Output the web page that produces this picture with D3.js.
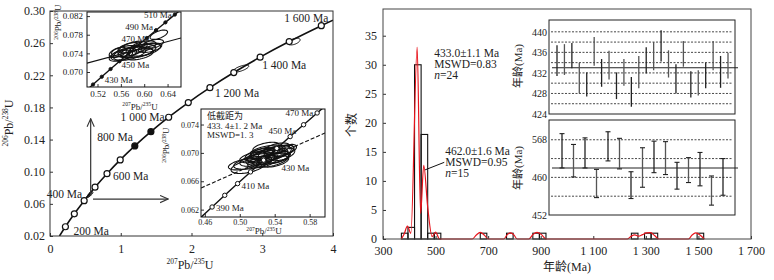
<!DOCTYPE html>
<html>
<head>
<meta charset="utf-8">
<script src="https://cdn.jsdelivr.net/npm/d3@7"></script>
<style>
body { margin: 0; background: #fff; }
svg text { font-family: "Liberation Serif", "Times New Roman", "Noto Sans CJK SC", serif; fill: #222; }
</style>
</head>
<body>
<svg width="774" height="280"></svg>
<script>
// ---- concordia diagram data ----
var concAges = [200, 300, 400, 500, 600, 700, 800, 900, 1000, 1100, 1200, 1300, 1400, 1500, 1600];
var concX = [0.2177, 0.3438, 0.4828, 0.6363, 0.8056, 0.9925, 1.1987, 1.4263, 1.6774, 1.9545, 2.2604, 2.5978, 2.9702, 3.3812, 3.8348];
var concY = [0.0315, 0.0476, 0.0640, 0.0807, 0.0975, 0.1147, 0.1321, 0.1498, 0.1678, 0.1861, 0.2046, 0.2234, 0.2426, 0.2620, 0.2817];
var concStart = [0.134, 0.02], concEnd = [4.0, 0.2885];
var filledAges = [800, 900];
var mainLabelAges = [200, 400, 600, 800, 1000, 1200, 1400, 1600];
var mainLabelText = ["200 Ma", "400 Ma", "600 Ma", "800 Ma", "1 000 Ma", "1 200 Ma", "1 400 Ma", "1 600 Ma"];
// x, y, sx, sy, rho
var mainEllipses = [
  [2.70, 0.2284, 0.110, 0.0044, 0.7],
  [3.45, 0.2620, 0.085, 0.0042, 0.5],
  [0.55, 0.0700, 0.025, 0.0013, 0.5],
  [0.57, 0.0722, 0.030, 0.0015, 0.5],
  [0.58, 0.0738, 0.028, 0.0014, 0.5],
  [0.54, 0.0692, 0.020, 0.0011, 0.5]
];

var insetAges = [380, 390, 400, 410, 420, 430, 440, 450, 460, 470, 480, 490, 500, 510, 520];
var insetX = [0.4539, 0.4683, 0.4828, 0.4975, 0.5123, 0.5273, 0.5424, 0.5577, 0.5731, 0.5886, 0.6044, 0.6202, 0.6363, 0.6525, 0.6688];
var insetY = [0.06072, 0.06237, 0.06402, 0.06567, 0.06732, 0.06898, 0.07064, 0.07230, 0.07397, 0.07563, 0.07730, 0.07897, 0.08065, 0.08233, 0.08400];

var ins1Ticks = { x: [0.52, 0.56, 0.60, 0.64], y: [0.070, 0.074, 0.078, 0.082] };
var ins1Labels = [430, 450, 470, 490, 510];
var ins1Line = [[0.502, 0.0719], [0.663, 0.0773]];
var ins1Ellipses = [
  [0.575, 0.0740, 0.028, 0.0015, 0.5], [0.590, 0.0745, 0.030, 0.0014, 0.5],
  [0.565, 0.0738, 0.022, 0.0013, 0.5], [0.580, 0.0750, 0.025, 0.0016, 0.5],
  [0.600, 0.0748, 0.028, 0.0014, 0.5], [0.560, 0.0735, 0.020, 0.0012, 0.5],
  [0.585, 0.0742, 0.030, 0.0012, 0.4], [0.610, 0.0752, 0.020, 0.0010, 0.5],
  [0.615, 0.0760, 0.018, 0.0010, 0.5], [0.570, 0.0745, 0.026, 0.0012, 0.4],
  [0.592, 0.0738, 0.024, 0.0012, 0.5], [0.555, 0.0742, 0.015, 0.0011, 0.5],
  [0.575, 0.0752, 0.020, 0.0011, 0.5], [0.625, 0.0780, 0.015, 0.0010, 0.6],
  [0.598, 0.0755, 0.022, 0.0012, 0.5]
];

var ins2Ticks = { x: [0.46, 0.50, 0.54, 0.58], y: [0.062, 0.066, 0.070, 0.074] };
var ins2Labels = [390, 410, 430, 450, 470];
var ins2Line = [[0.4556, 0.06505], [0.5976, 0.07281]];
var ins2Text = ["低截距为", "433. 4±1. 2 Ma", "MSWD=1. 3"];
var ins2Ellipses = [
  [0.530, 0.0696, 0.022, 0.0010, 0.5], [0.535, 0.0698, 0.020, 0.0009, 0.5],
  [0.525, 0.0692, 0.018, 0.0009, 0.5], [0.540, 0.0700, 0.019, 0.0010, 0.5],
  [0.528, 0.0700, 0.016, 0.0008, 0.5], [0.545, 0.0702, 0.017, 0.0009, 0.5],
  [0.520, 0.0690, 0.020, 0.0009, 0.5], [0.533, 0.0694, 0.024, 0.0010, 0.4],
  [0.538, 0.0692, 0.018, 0.0008, 0.5], [0.548, 0.0698, 0.015, 0.0009, 0.5],
  [0.515, 0.0686, 0.022, 0.0009, 0.5], [0.505, 0.0684, 0.018, 0.0008, 0.5],
  [0.532, 0.0703, 0.020, 0.0008, 0.5], [0.542, 0.0706, 0.015, 0.0008, 0.5],
  [0.526, 0.0688, 0.017, 0.0009, 0.5], [0.550, 0.0703, 0.012, 0.0008, 0.5],
  [0.536, 0.0690, 0.020, 0.0010, 0.5], [0.522, 0.0697, 0.016, 0.0009, 0.5],
  [0.544, 0.0694, 0.014, 0.0008, 0.5], [0.510, 0.0681, 0.020, 0.0010, 0.5],
  [0.555, 0.0705, 0.010, 0.0007, 0.5], [0.530, 0.0708, 0.015, 0.0007, 0.5],
  [0.518, 0.0694, 0.018, 0.0008, 0.5], [0.540, 0.0688, 0.016, 0.0008, 0.5]
];

// ---- histogram data ----
var binStart = [370, 395, 420, 445, 470, 495, 670, 770, 870, 895, 1245, 1295, 1320, 1495];
var binCount = [1, 2, 30, 18, 1, 1, 1, 1, 1, 1, 1, 1, 1, 1];
var binWidth = 25;
var densAge = [370, 380, 393, 406, 430, 443, 455, 470, 487, 500, 515,
  640, 655, 670, 685, 700, 760, 772, 785, 798, 810, 855, 870, 886, 903, 920,
  1230, 1245, 1258, 1272, 1287, 1302, 1318, 1333, 1350, 1462, 1476, 1490, 1506, 1522];
var densVal = [0, 0.8, 2.2, 1.0, 33, 4.4, 12.7, 5.5, 0.4, 1.2, 0,
  0, 0.7, 1.15, 0.7, 0, 0, 0.7, 1.05, 0.7, 0, 0, 0.75, 1.15, 0.75, 0,
  0, 0.5, 0.7, 0.5, 0.75, 1.05, 1.1, 0.6, 0, 0, 0.7, 1.05, 0.7, 0];
var histXTicks = [300, 500, 700, 900, 1100, 1300, 1500, 1700];
var histYTicks = [0, 5, 10, 15, 20, 25, 30, 35];
var ann1 = ["433.0±1.1 Ma", "MSWD=0.83", "=24"];
var ann2 = ["462.0±1.6 Ma", "MSWD=0.95", "=15"];

// weighted mean plots
var meanA = 433.0, meanB = 462.0;
var errALo = [431.4, 431.6, 432.9, 428.0, 427.4, 433.4, 429.3, 430.7, 426.9, 429.5, 425.4, 429.0,
  431.9, 432.5, 434.2, 431.1, 428.0, 433.2, 427.2, 427.6, 429.0, 432.5, 429.1, 430.9];
var errAHi = [437.4, 437.6, 437.8, 434.0, 432.1, 439.0, 434.7, 436.3, 432.1, 434.7, 431.2, 435.3,
  437.0, 438.0, 440.3, 436.4, 433.7, 438.2, 432.3, 432.5, 434.0, 438.2, 435.3, 435.9];
var errBLo = [462.0, 460.1, 462.0, 455.7, 463.5, 461.8, 455.5, 457.9, 461.0, 460.6, 457.5, 458.9, 458.2, 454.1, 456.2];
var errBHi = [469.3, 467.0, 468.4, 461.7, 469.7, 468.3, 461.2, 466.3, 467.7, 467.6, 463.2, 464.2, 465.3, 460.3, 464.0];
var aTicks = [424, 428, 432, 436, 440], aGrid = [426, 428, 430, 432, 434, 436, 438, 440];
var bTicks = [452, 460, 468], bTickText = ["452", "460", "568"], bGrid = [456, 460, 464, 468];

// ---------------------------------------------------------------
var svg = d3.select("svg");
svg.append("rect").attr("width", 774).attr("height", 280).attr("fill", "#fff");
var defs = svg.append("defs");

function clip(id, x, y, w, h) {
  defs.append("clipPath").attr("id", id).append("rect")
    .attr("x", x).attr("y", y).attr("width", w).attr("height", h);
}

defs.append("marker").attr("id", "arr").attr("viewBox", "0 0 10 10")
  .attr("refX", 9).attr("refY", 5).attr("markerWidth", 9).attr("markerHeight", 9)
  .attr("markerUnits", "userSpaceOnUse").attr("orient", "auto")
  .append("path").attr("d", "M0,1 L9,5 L0,9").attr("fill", "none").attr("stroke", "#333").attr("stroke-width", 1.2);

// isotope ratio label: 206Pb/238U
function ratio(t, a, b, fs) {
  var s = fs * 0.62, up = fs * 0.38;
  t.append("tspan").attr("font-size", s).attr("dy", -up).text(a);
  t.append("tspan").attr("font-size", fs).attr("dy", up).text("Pb/");
  t.append("tspan").attr("font-size", s).attr("dy", -up).text(b);
  t.append("tspan").attr("font-size", fs).attr("dy", up).text("U");
}

function ellipse(e, xs, ys) {
  var pts = d3.range(0, 360, 8).map(function(a) {
    var t = a * Math.PI / 180;
    return [xs(e[0] + e[2] * Math.cos(t)),
            ys(e[1] + e[3] * (e[4] * Math.cos(t) + Math.sqrt(1 - e[4] * e[4]) * Math.sin(t)))];
  });
  return d3.line().curve(d3.curveLinearClosed)(pts);
}

function styleAxis(g, fs) {
  g.select(".domain").remove();
  g.attr("font-size", fs);
  g.selectAll("line").attr("stroke", "#333");
}

// ================= left: concordia =================
var x0 = d3.scaleLinear().domain([0, 4]).range([50, 333]),
    y0 = d3.scaleLinear().domain([0.02, 0.30]).range([236, 11]);
clip("cMain", 50, 11, 283, 225);

var ax = svg.append("g").attr("transform", "translate(0,236)")
  .call(d3.axisBottom(x0).tickValues([0, 1, 2, 3, 4]).tickSize(-3).tickPadding(8).tickFormat(d3.format("d")));
styleAxis(ax, 12);
var ay = svg.append("g").attr("transform", "translate(50,0)")
  .call(d3.axisLeft(y0).tickValues(d3.range(0.02, 0.31, 0.04)).tickSize(-3).tickPadding(5).tickFormat(d3.format(".2f")));
styleAxis(ay, 12);

var gMain = svg.append("g").attr("clip-path", "url(#cMain)");
var curvePts = [concStart].concat(concX.map(function(d, i) { return [d, concY[i]]; })).concat([concEnd]);
var cLine = d3.line().x(function(d) { return x0(d[0]); }).y(function(d) { return y0(d[1]); }).curve(d3.curveCatmullRom);
gMain.append("path").attr("d", cLine(curvePts)).attr("fill", "none").attr("stroke", "#111").attr("stroke-width", 1.6);

gMain.selectAll(".me").data(mainEllipses).enter().append("path")
  .attr("d", function(e) { return ellipse(e, x0, y0); })
  .attr("fill", "none").attr("stroke", "#111").attr("stroke-width", 1);

gMain.selectAll(".mk").data(concAges).enter().append("circle")
  .attr("cx", function(d, i) { return x0(concX[i]); })
  .attr("cy", function(d, i) { return y0(concY[i]); })
  .attr("r", 3)
  .attr("fill", function(d) { return filledAges.indexOf(d) >= 0 ? "#111" : "#fff"; })
  .attr("stroke", "#111").attr("stroke-width", 1.2);

var mainLabelOff = [[8, 8, "start"], [-2, -3, "end"], [6, 6, "start"], [-2, -5, "end"],
  [-4, 4, "end"], [5, 9, "start"], [2, 12, "start"], [7, -4, "end"]];
mainLabelAges.forEach(function(a, k) {
  var i = concAges.indexOf(a), o = mainLabelOff[k];
  svg.append("text").attr("x", x0(concX[i]) + o[0]).attr("y", y0(concY[i]) + o[1])
    .attr("text-anchor", o[2]).attr("font-size", 11.5).text(mainLabelText[k]);
});

// arrows to insets
var arrowV = [[0.575, 0.071], [0.575, 0.166]], arrowH = [[0.608, 0.066], [1.67, 0.066]];
[arrowV, arrowH].forEach(function(a) {
  svg.append("line").attr("x1", x0(a[0][0])).attr("y1", y0(a[0][1]))
    .attr("x2", x0(a[1][0])).attr("y2", y0(a[1][1]))
    .attr("stroke", "#333").attr("stroke-width", 1.2).attr("marker-end", "url(#arr)");
});

svg.append("rect").attr("x", 50).attr("y", 11).attr("width", 283).attr("height", 225)
  .attr("fill", "none").attr("stroke", "#333").attr("stroke-width", 1);

var tX = svg.append("text").attr("x", 190).attr("y", 269).attr("text-anchor", "middle").attr("font-size", 12);
ratio(tX, "207", "235", 12);
var tY = svg.append("text").attr("transform", "translate(13,123) rotate(-90)").attr("text-anchor", "middle").attr("font-size", 12);
ratio(tY, "206", "238", 12);

// ---- inset drawing helper ----
function inset(o) {
  var xs = d3.scaleLinear().domain(o.xd).range([o.x, o.x + o.w]),
      ys = d3.scaleLinear().domain(o.yd).range([o.y + o.h, o.y]);
  clip(o.id, o.x, o.y, o.w, o.h);
  svg.append("rect").attr("x", o.x).attr("y", o.y).attr("width", o.w).attr("height", o.h).attr("fill", "#fff");
  var g = svg.append("g").attr("clip-path", "url(#" + o.id + ")");
  var pl = d3.line().x(function(d) { return xs(d[0]); }).y(function(d) { return ys(d[1]); });
  g.append("path").attr("d", pl(o.line)).attr("fill", "none").attr("stroke", "#111")
    .attr("stroke-width", 1.1).attr("stroke-dasharray", o.dash || null);
  g.selectAll(".el").data(o.ell).enter().append("path")
    .attr("d", function(e) { return ellipse(e, xs, ys); })
    .attr("fill", "none").attr("stroke", "#111").attr("stroke-width", 1.1);
  var cp = insetX.map(function(d, i) { return [d, insetY[i]]; });
  g.append("path").attr("d", pl.curve(d3.curveCatmullRom)(cp)).attr("fill", "none").attr("stroke", "#111").attr("stroke-width", 1.4);
  g.selectAll(".ck").data(cp).enter().append("circle")
    .attr("cx", function(d) { return xs(d[0]); }).attr("cy", function(d) { return ys(d[1]); })
    .attr("r", o.r).attr("fill", o.dot).attr("stroke", "#111").attr("stroke-width", 1);
  o.labels.forEach(function(a, k) {
    var i = insetAges.indexOf(a), f = o.off[k];
    svg.append("text").attr("x", xs(insetX[i]) + f[0]).attr("y", ys(insetY[i]) + f[1])
      .attr("text-anchor", f[2]).attr("font-size", 9).text(a + " Ma");
  });
  var gx = svg.append("g").attr("transform", "translate(0," + (o.y + o.h) + ")")
    .call(d3.axisBottom(xs).tickValues(o.ticks.x).tickSize(-3).tickPadding(o.px).tickFormat(d3.format(".2f")));
  styleAxis(gx, o.fs);
  var gy = svg.append("g").attr("transform", "translate(" + o.x + ",0)")
    .call(d3.axisLeft(ys).tickValues(o.ticks.y).tickSize(-3).tickPadding(o.py).tickFormat(d3.format(".3f")));
  styleAxis(gy, o.fs);
  svg.append("rect").attr("x", o.x).attr("y", o.y).attr("width", o.w).attr("height", o.h)
    .attr("fill", "none").attr("stroke", "#111").attr("stroke-width", 1);
  var tx = svg.append("text").attr("x", o.tx[0]).attr("y", o.tx[1]).attr("text-anchor", "middle").attr("font-size", 9);
  ratio(tx, "207", "235", 9);
  var ty = svg.append("text").attr("transform", "translate(" + o.ty[0] + "," + o.ty[1] + ") rotate(-90)")
    .attr("text-anchor", "middle").attr("font-size", 9);
  ratio(ty, "206", "238", 9);
}

inset({ id: "c1", x: 87, y: 12, w: 94, h: 75, xd: [0.502, 0.663], yd: [0.06678, 0.08288],
  line: ins1Line, ell: ins1Ellipses, r: 1.6, dot: "#111", ticks: ins1Ticks, labels: ins1Labels,
  off: [[3, 6, "start"], [2, 7, "start"], [-16, -4, "start"], [-3, 0, "end"], [-3, 3, "end"]],
  fs: 9, px: 4, py: 4, tx: [140, 109.5], ty: [61, 22] });

inset({ id: "c2", x: 201, y: 109, w: 124, h: 108, xd: [0.4556, 0.5976], yd: [0.06096, 0.07619],
  line: ins2Line, dash: "4,2", ell: ins2Ellipses, r: 2.2, dot: "#fff", ticks: ins2Ticks, labels: ins2Labels,
  off: [[4, 4, "start"], [4, 5, "start"], [18, 11, "start"], [6, -3, "end"], [-4, 3, "end"]],
  fs: 8, px: 2, py: 2, tx: [264, 234], ty: [169, 145] });

ins2Text.forEach(function(t, i) {
  svg.append("text").attr("x", 207).attr("y", 119 + i * 9.5).attr("font-size", 9).text(t);
});

// ================= right: histogram =================
var xh = d3.scaleLinear().domain([300, 1700]).range([383, 751]),
    yh = d3.scaleLinear().domain([0, 39.6]).range([239, 9]);

var hx = svg.append("g").attr("transform", "translate(0,239)")
  .call(d3.axisBottom(xh).tickValues(histXTicks).tickSize(-3).tickPadding(7)
    .tickFormat(function(d) { return d < 1000 ? d : Math.floor(d / 1000) + " " + String(d % 1000).padStart(3, "0"); }));
styleAxis(hx, 12);
var hy = svg.append("g").attr("transform", "translate(383,0)")
  .call(d3.axisLeft(yh).tickValues(histYTicks).tickSize(-3).tickPadding(6));
styleAxis(hy, 12);

svg.selectAll(".bar").data(binStart).enter().append("rect")
  .attr("x", function(d) { return xh(d); })
  .attr("y", function(d, i) { return yh(binCount[i]); })
  .attr("width", function(d) { return xh(d + binWidth) - xh(d); })
  .attr("height", function(d, i) { return yh(0) - yh(binCount[i]); })
  .attr("fill", "none").attr("stroke", "#111").attr("stroke-width", 1.1);

var dens = densAge.map(function(d, i) { return [d, densVal[i]]; });
svg.append("path")
  .attr("d", d3.line().x(function(d) { return xh(d[0]); }).y(function(d) { return yh(d[1]); }).curve(d3.curveMonotoneX)(dens))
  .attr("fill", "none").attr("stroke", "#e8141c").attr("stroke-width", 1.2);

svg.append("rect").attr("x", 383).attr("y", 9).attr("width", 368).attr("height", 230)
  .attr("fill", "none").attr("stroke", "#444").attr("stroke-width", 1);

function annot(lines, ax, ay) {
  lines.forEach(function(t, i) {
    var tt = svg.append("text").attr("x", xh(ax)).attr("y", yh(ay) + i * 11).attr("font-size", 11.5);
    if (i === 2) { tt.append("tspan").attr("font-style", "italic").text("n"); tt.append("tspan").text(t); }
    else tt.text(t);
  });
}
annot(ann1, 495, 31.3);
annot(ann2, 536.5, 14.5);
var lead = [[533, 13.2], [460, 11.9]];
svg.append("line").attr("x1", xh(lead[0][0])).attr("y1", yh(lead[0][1]))
  .attr("x2", xh(lead[1][0])).attr("y2", yh(lead[1][1])).attr("stroke", "#111").attr("stroke-width", 1);

svg.append("text").attr("transform", "translate(356,125) rotate(-90)").attr("text-anchor", "middle")
  .attr("font-size", 12).text("个数");
svg.append("text").attr("x", 567).attr("y", 271).attr("text-anchor", "middle").attr("font-size", 12).text("年龄(Ma)");

// ---- weighted mean panels ----
function meanPanel(o) {
  var xs = d3.scaleLinear().domain([1, o.lo.length]).range(o.xr),
      ys = d3.scaleLinear().domain(o.yd).range([o.y + o.h, o.y]);
  svg.append("rect").attr("x", 549).attr("y", o.y).attr("width", 186).attr("height", o.h).attr("fill", "#fff");
  svg.selectAll(".gr" + o.id).data(o.grid).enter().append("line")
    .attr("x1", 551).attr("x2", 733).attr("y1", function(d) { return ys(d); }).attr("y2", function(d) { return ys(d); })
    .attr("stroke", "#333").attr("stroke-width", 0.9).attr("stroke-dasharray", "2,1.5");
  svg.append("line").attr("x1", 552).attr("x2", 738).attr("y1", ys(o.mean)).attr("y2", ys(o.mean))
    .attr("stroke", "#222").attr("stroke-width", 1.1);
  var g = svg.append("g");
  o.lo.forEach(function(lo, i) {
    var hi = o.hi[i], x = xs(i + 1);
    g.append("line").attr("x1", x).attr("x2", x).attr("y1", ys(lo)).attr("y2", ys(hi))
      .attr("stroke", i % 2 ? "#555" : "#222").attr("stroke-width", 1.3);
    if (o.cap) {
      [lo, hi].forEach(function(v) {
        g.append("line").attr("x1", x - 2.5).attr("x2", x + 2.5).attr("y1", ys(v)).attr("y2", ys(v))
          .attr("stroke", "#222").attr("stroke-width", 1.1);
      });
    }
  });
  var gy = svg.append("g").attr("transform", "translate(549,0)")
    .call(d3.axisLeft(ys).tickValues(o.ticks).tickSize(0).tickPadding(2)
      .tickFormat(function(d, i) { return o.tickText ? o.tickText[i] : d; }));
  styleAxis(gy, 10);
  svg.append("rect").attr("x", 549).attr("y", o.y).attr("width", 186).attr("height", o.h)
    .attr("fill", "none").attr("stroke", "#222").attr("stroke-width", 1);
  svg.append("text").attr("transform", "translate(522," + o.ty + ") rotate(-90)").attr("text-anchor", "middle")
    .attr("font-size", 11).text("年龄(Ma)");
}

meanPanel({ id: "a", y: 20, h: 94, yd: [424, 442.3], xr: [557, 728], lo: errALo, hi: errAHi,
  mean: meanA, grid: aGrid, ticks: aTicks, cap: false, ty: 66 });
meanPanel({ id: "b", y: 120, h: 95, yd: [452, 472.2], xr: [562, 723], lo: errBLo, hi: errBHi,
  mean: meanB, grid: bGrid, ticks: bTicks, tickText: bTickText, cap: true, ty: 168 });
</script>
</body>
</html>
